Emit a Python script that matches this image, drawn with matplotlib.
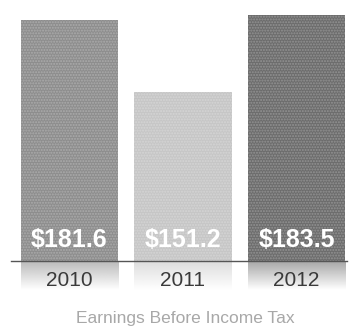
import numpy as np
import matplotlib
matplotlib.use("Agg")
import matplotlib.pyplot as plt
from matplotlib.colors import to_rgb

years = ["2010", "2011", "2012"]
ebit = [181.6, 151.2, 183.5]
labels = ["$181.6", "$151.2", "$183.5"]
bar_colors = ["#8d8d8d", "#c6c6c6", "#6c6c6c"]
title = "Earnings Before Income Tax"

BASE = 80.6
sans = ["Liberation Sans", "DejaVu Sans"]

fig = plt.figure(figsize=(3.56, 3.35), dpi=100)
ax = fig.add_axes([0, 0, 1, 1])
ax.set_xlim(-0.612, 2.524)
ax.set_ylim(49.65, 189.8)
ax.axis("off")

x = np.arange(len(years))
width = 0.855
heights = [v - BASE for v in ebit]
ax.bar(x, heights, width=width, bottom=BASE, color=bar_colors,
       edgecolor="#ffffff40", linewidth=0, hatch="......", zorder=2)

# faded reflection under each bar
fade = np.linspace(0.6, 0.0, 64)[:, None]
for i, c in enumerate(bar_colors):
    rgba = np.zeros((64, 1, 4))
    rgba[..., :3] = to_rgb(c)
    rgba[..., 3] = fade
    ax.imshow(rgba, extent=(i - width / 2, i + width / 2, BASE - 12, BASE),
              aspect="auto", origin="upper", zorder=1, interpolation="bilinear")

# baseline
ax.plot([-0.515, 2.445], [BASE, BASE], color="#555555", lw=1.0, zorder=3)

for i, lab in enumerate(labels):
    ax.annotate(lab, xy=(i, BASE), xytext=(0, 21), textcoords="offset pixels",
                ha="center", va="center", color="white", fontsize=18,
                fontweight="bold", family=sans, zorder=4)
    ax.annotate(years[i], xy=(i, BASE), xytext=(0, -19), textcoords="offset pixels",
                ha="center", va="center", color="#3a3a3a", fontsize=15,
                family=sans, zorder=4)

fig.text(0.52, 1 - 318 / 335, title, ha="center", va="center",
         color="#a8a8a8", fontsize=12.5, family=sans)

fig.savefig("out.png", dpi=100, facecolor="white")
